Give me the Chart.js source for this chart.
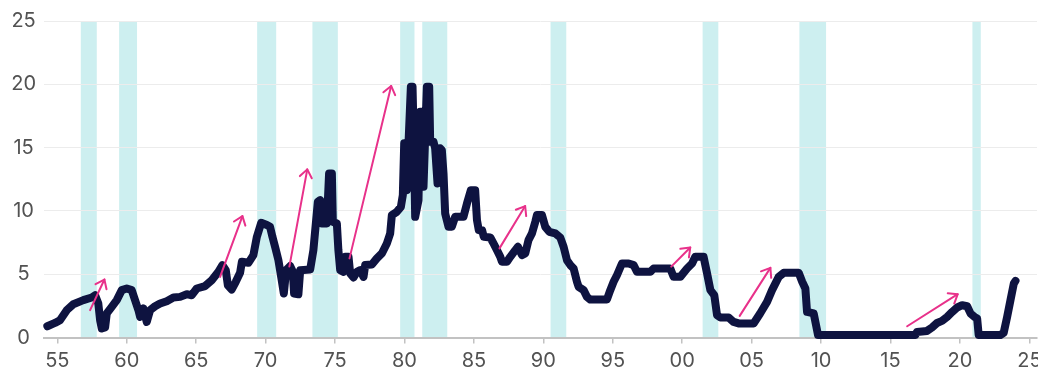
<!DOCTYPE html>
<html>
<head>
<meta charset="utf-8">
<script src="https://cdn.jsdelivr.net/npm/chart.js@4.4.1/dist/chart.umd.min.js"></script>
<style>
  html, body { margin: 0; padding: 0; background: #fff; overflow: hidden; }
  #wrap { width: 1038px; height: 374px; position: relative; }
</style>
</head>
<body>
<div id="wrap"><canvas id="chart"></canvas></div>
<script>
// Policy rate (%), by fractional year
const dates = [
  1954.28, 1954.83, 1955.19, 1955.68, 1956.15, 1956.87, 1957.48, 1957.72, 1957.95, 1958.08,
  1958.20, 1958.44, 1958.56, 1958.92, 1959.28, 1959.64, 1960.00, 1960.36, 1960.60, 1960.84,
  1960.96, 1961.20, 1961.44, 1961.68, 1962.04, 1962.40, 1962.88, 1963.36, 1963.84, 1964.32,
  1964.68, 1965.04, 1965.64, 1966.12, 1966.60, 1966.89, 1967.13, 1967.28, 1967.56, 1967.85,
  1968.16, 1968.29, 1968.76, 1969.12, 1969.37, 1969.68, 1970.09, 1970.32, 1970.49, 1970.68,
  1970.92, 1971.12, 1971.31, 1971.48, 1971.77, 1971.96, 1972.05, 1972.36, 1972.49, 1973.21,
  1973.44, 1973.76, 1973.93, 1974.05, 1974.41, 1974.57, 1974.77, 1974.84, 1975.13, 1975.24,
  1975.37, 1975.61, 1975.73, 1975.97, 1976.09, 1976.33, 1976.57, 1976.81, 1977.05, 1977.17,
  1977.65, 1978.01, 1978.37, 1978.73, 1978.97, 1979.09, 1979.45, 1979.74, 1979.88, 1979.98,
  1980.17, 1980.29, 1980.46, 1980.58, 1980.70, 1980.77, 1981.01, 1981.13, 1981.25, 1981.37,
  1981.61, 1981.78, 1981.85, 1982.09, 1982.21, 1982.38, 1982.57, 1982.69, 1982.81, 1982.93,
  1983.17, 1983.41, 1983.65, 1984.25, 1984.50, 1984.78, 1985.09, 1985.22, 1985.35, 1985.59,
  1985.71, 1986.18, 1986.41, 1986.66, 1986.90, 1987.02, 1987.38, 1987.62, 1987.98, 1988.17,
  1988.46, 1988.70, 1988.93, 1989.18, 1989.42, 1989.54, 1989.90, 1990.14, 1990.43, 1990.86,
  1991.22, 1991.46, 1991.70, 1991.94, 1992.18, 1992.42, 1992.54, 1992.90, 1993.14, 1993.38,
  1994.58, 1994.82, 1995.06, 1995.30, 1995.66, 1996.14, 1996.50, 1996.74, 1997.70, 1997.94,
  1999.14, 1999.38, 1999.86, 2000.35, 2000.71, 2000.94, 2001.54, 2001.79, 2002.03, 2002.31,
  2002.51, 2002.75, 2003.34, 2003.70, 2004.06, 2005.14, 2005.61, 2006.11, 2006.47, 2006.95,
  2007.31, 2008.39, 2008.64, 2008.87, 2008.99, 2009.47, 2009.64, 2009.78, 2016.79, 2016.91,
  2017.63, 2017.99, 2018.35, 2018.71, 2019.08, 2019.44, 2019.80, 2020.16, 2020.52, 2020.76,
  2021.04, 2021.24, 2021.35, 2022.91, 2023.15, 2023.40, 2023.64, 2023.88, 2024.00
];
const rates = [
  0.89, 1.15, 1.37, 2.16, 2.63, 2.95, 3.16, 3.34, 2.69, 1.37,
  0.71, 0.79, 1.90, 2.42, 2.95, 3.74, 3.87, 3.74, 2.95, 2.16,
  1.63, 2.29, 1.23, 2.16, 2.47, 2.69, 2.87, 3.16, 3.21, 3.42,
  3.34, 3.87, 4.06, 4.53, 5.19, 5.72, 5.32, 4.13, 3.79, 4.40,
  5.11, 5.98, 5.90, 6.51, 7.95, 9.06, 8.88, 8.74, 7.95, 7.16,
  6.11, 4.79, 3.48, 5.32, 5.64, 5.19, 3.48, 3.42, 5.32, 5.38,
  6.90, 10.72, 10.85, 9.01, 9.01, 12.96, 12.96, 9.14, 9.01, 6.90,
  5.32, 5.19, 6.37, 6.37, 5.06, 4.74, 5.19, 5.32, 4.79, 5.72,
  5.77, 6.25, 6.64, 7.43, 8.22, 9.67, 9.93, 10.32, 11.25, 15.34,
  11.64, 15.34, 19.81, 19.81, 14.00, 9.53, 10.85, 17.83, 17.83, 11.90,
  19.81, 19.81, 15.46, 15.46, 14.94, 12.17, 14.94, 14.81, 12.96, 9.80,
  8.74, 8.74, 9.53, 9.53, 10.59, 11.64, 11.64, 9.27, 8.48, 8.48,
  7.95, 7.90, 7.43, 6.90, 6.37, 5.98, 5.98, 6.37, 6.90, 7.16,
  6.51, 6.64, 7.69, 8.22, 9.14, 9.67, 9.67, 8.74, 8.35, 8.22,
  7.90, 7.16, 6.11, 5.72, 5.45, 4.40, 4.00, 3.74, 3.21, 3.00,
  3.00, 3.74, 4.40, 4.92, 5.85, 5.85, 5.72, 5.19, 5.19, 5.45,
  5.45, 4.79, 4.79, 5.45, 5.85, 6.37, 6.37, 5.06, 3.74, 3.34,
  1.76, 1.58, 1.58, 1.23, 1.11, 1.11, 1.90, 2.81, 3.74, 4.79,
  5.11, 5.11, 4.40, 3.87, 2.02, 1.90, 0.97, 0.20, 0.20, 0.44,
  0.52, 0.79, 1.15, 1.31, 1.63, 2.02, 2.37, 2.55, 2.47, 1.90,
  1.63, 1.50, 0.20, 0.20, 0.36, 1.63, 2.95, 4.27, 4.47
];

// Recession periods (shaded columns)
const recessionStart = [1956.69, 1959.45, 1969.39, 1973.37, 1979.69, 1981.28, 1990.52, 2001.47, 2008.44, 2020.90];
const recessionEnd   = [1957.84, 1960.74, 1970.76, 1975.20, 1980.72, 1983.08, 1991.65, 2002.60, 2010.36, 2021.50];

// Tightening-cycle arrows: tail (from) and head (to)
const arrowFromX = [1957.36, 1966.72, 1971.71, 1976.04, 1986.84, 1999.21, 2004.14, 2016.20];
const arrowFromY = [2.16, 4.79, 5.60, 6.25, 7.04, 5.60, 1.71, 0.89];
const arrowToX   = [1958.39, 1968.33, 1973.00, 1979.04, 1988.69, 2000.58, 2006.35, 2019.84];
const arrowToY   = [4.58, 9.59, 13.28, 19.87, 10.38, 7.11, 5.50, 3.42];

// Axis ticks
const xTickValues = [1955, 1960, 1965, 1970, 1975, 1980, 1985, 1990, 1995, 2000, 2005, 2010, 2015, 2020, 2025];
const xTickLabels = ['55', '60', '65', '70', '75', '80', '85', '90', '95', '00', '05', '10', '15', '20', '25'];
const yTickValues = [0, 5, 10, 15, 20, 25];

const FONT = { family: 'Inter, "DejaVu Sans", sans-serif', size: 20 };
const LABEL_COLOR = '#525252';

const recessionBands = {
  id: 'recessionBands',
  beforeDraw(chart) {
    const { ctx, chartArea, scales: { x } } = chart;
    ctx.save();
    ctx.fillStyle = '#cdeff0';
    for (let i = 0; i < recessionStart.length; i++) {
      const x0 = x.getPixelForValue(recessionStart[i]);
      const x1 = x.getPixelForValue(recessionEnd[i]);
      ctx.fillRect(x0, chartArea.top, x1 - x0, chartArea.bottom - chartArea.top);
    }
    ctx.restore();
  }
};

const cycleArrows = {
  id: 'cycleArrows',
  afterDatasetsDraw(chart) {
    const { ctx, scales: { x, y } } = chart;
    ctx.save();
    ctx.strokeStyle = '#e8318a';
    ctx.lineWidth = 2;
    ctx.lineCap = 'round';
    ctx.lineJoin = 'round';
    for (let i = 0; i < arrowFromX.length; i++) {
      const x0 = x.getPixelForValue(arrowFromX[i]);
      const y0 = y.getPixelForValue(arrowFromY[i]);
      const x1 = x.getPixelForValue(arrowToX[i]);
      const y1 = y.getPixelForValue(arrowToY[i]);
      ctx.beginPath();
      ctx.moveTo(x0, y0);
      ctx.lineTo(x1, y1);
      ctx.stroke();
      const a = Math.atan2(y1 - y0, x1 - x0);
      const h = 10, s = 0.65;
      ctx.beginPath();
      ctx.moveTo(x1 - h * Math.cos(a - s), y1 - h * Math.sin(a - s));
      ctx.lineTo(x1, y1);
      ctx.lineTo(x1 - h * Math.cos(a + s), y1 - h * Math.sin(a + s));
      ctx.stroke();
    }
    ctx.restore();
  }
};

new Chart(document.getElementById('chart'), {
  type: 'line',
  data: {
    datasets: [{
      data: dates.map((d, i) => ({ x: d, y: rates[i] })),
      borderColor: '#0e1340',
      borderWidth: 8,
      borderJoinStyle: 'round',
      borderCapStyle: 'round',
      pointRadius: 0,
      tension: 0,
      fill: false,
      clip: 12
    }]
  },
  options: {
    responsive: true,
    maintainAspectRatio: false,
    animation: false,
    devicePixelRatio: 1,
    layout: { padding: { top: 21, right: 1, bottom: 0, left: 0 } },
    plugins: { legend: { display: false }, tooltip: { enabled: false } },
    scales: {
      x: {
        type: 'linear',
        min: 1954.04,
        max: 2025.55,
        afterBuildTicks(scale) { scale.ticks = xTickValues.map(v => ({ value: v })); },
        afterFit(scale) { scale.paddingLeft = 0; scale.paddingRight = 0; scale.height = 36.5; },
        ticks: {
          autoSkip: false,
          maxRotation: 0,
          padding: 5,
          font: FONT,
          color: LABEL_COLOR,
          callback: (v) => xTickLabels[xTickValues.indexOf(v)]
        },
        grid: { drawOnChartArea: false, drawTicks: true, tickLength: 6, color: '#c2c2c2', lineWidth: 1.5 },
        border: { display: true, color: '#c2c2c2', width: 2 }
      },
      y: {
        min: 0,
        max: 25,
        afterBuildTicks(scale) { scale.ticks = yTickValues.map(v => ({ value: v })); },
        afterFit(scale) { scale.width = 44; },
        ticks: { font: FONT, color: LABEL_COLOR, crossAlign: 'center', padding: 8 },
        grid: { color: '#ececec', lineWidth: 1, drawTicks: false },
        border: { display: false }
      }
    }
  },
  plugins: [recessionBands, cycleArrows]
});
</script>
</body>
</html>
